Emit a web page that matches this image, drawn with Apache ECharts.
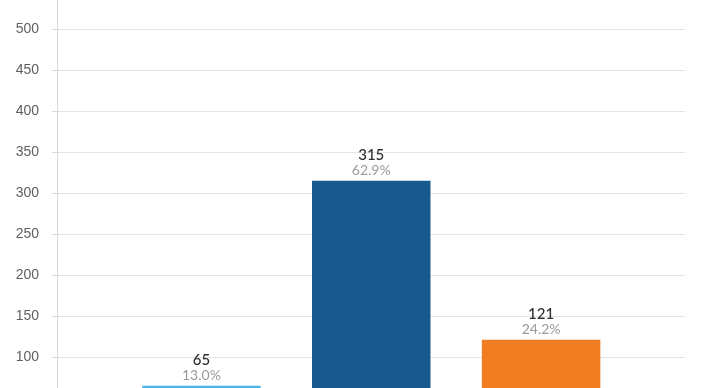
<!DOCTYPE html>
<html><head><meta charset="utf-8">
<script src="https://cdn.jsdelivr.net/npm/echarts@6/dist/echarts.min.js"></script>
<style>html,body{margin:0;padding:0;overflow:hidden;background:#fff;width:704px;height:388px}
#c{position:absolute;left:0;top:-20px;width:704px;height:540px}</style>
</head><body><div id="c"></div>
<script>
var categories = ['A', 'B', 'C'];
var values = [65, 315, 121];
var percents = ['13.0%', '62.9%', '24.2%'];
var colors = ['#4db6e9', '#165a8e', '#f07d22'];
var yTicks = [0, 50, 100, 150, 200, 250, 300, 350, 400, 450, 500, 550];

var chart = echarts.init(document.getElementById('c'));
chart.setOption({
  animation: false,
  grid: [
    {left: 57, right: 19, top: 8, bottom: 81},
    {left: 116.5, right: 78, top: 8, bottom: 81}
  ],
  xAxis: [
    {type: 'category', gridIndex: 0, data: categories, show: false},
    {type: 'category', gridIndex: 1, data: categories, show: false}
  ],
  yAxis: [
    {type: 'value', gridIndex: 0, min: yTicks[0], max: yTicks[yTicks.length-1], interval: 50,
     axisLine: {show: true, lineStyle: {color: '#d8d8d8'}},
     axisTick: {show: true, length: 5, lineStyle: {color: '#d8d8d8'}},
     axisLabel: {color: '#5f5f5f', fontSize: 14, margin: 18, fontFamily: 'Liberation Sans, Arial, sans-serif'},
     splitLine: {show: true, lineStyle: {color: '#e4e4e4'}}},
    {type: 'value', gridIndex: 1, min: yTicks[0], max: yTicks[yTicks.length-1], interval: 50, show: false}
  ],
  series: [{
    type: 'bar', xAxisIndex: 1, yAxisIndex: 1, barWidth: 118.5,
    data: values.map(function(v, i){ return {value: v, itemStyle: {color: colors[i]}}; }),
    label: {
      show: true, position: 'top', distance: 3,
      formatter: function(p){ return '{v|' + values[p.dataIndex] + '}\n{p|' + percents[p.dataIndex] + '}'; },
      rich: {
        v: {fontSize: 15, color: '#2e2e2e', fontFamily: 'Lato', fontWeight: 500, lineHeight: 15, align: 'center'},
        p: {fontSize: 14, color: '#9a9a9a', fontFamily: 'Lato', lineHeight: 15, align: 'center'}
      }
    }
  }]
});
</script></body></html>
